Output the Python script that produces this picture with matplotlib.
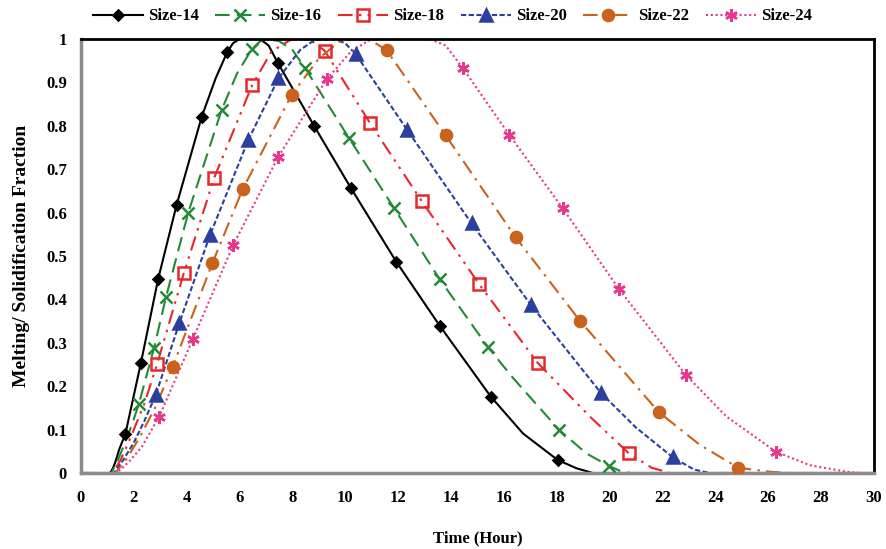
import matplotlib
matplotlib.use('Agg')
import matplotlib.pyplot as plt

plt.rcParams['font.family'] = ['Liberation Serif', 'DejaVu Serif']
plt.rcParams['font.weight'] = 'bold'

names = ['Size-14', 'Size-16', 'Size-18', 'Size-20', 'Size-22', 'Size-24']

# marker points (time in hours, fraction)
mk_t = {
    'Size-14': [1.68, 2.27, 2.92, 3.62, 4.57, 5.53, 7.46, 8.82, 10.22, 11.94, 13.58, 15.51, 18.04],
    'Size-16': [2.19, 2.76, 3.22, 4.06, 5.32, 6.46, 8.48, 10.15, 11.85, 13.58, 15.39, 18.1, 19.99],
    'Size-18': [2.88, 3.89, 5.04, 6.48, 9.22, 10.93, 12.89, 15.07, 17.28, 20.74],
    'Size-20': [2.83, 3.72, 4.88, 6.33, 7.47, 10.40, 12.35, 14.78, 17.03, 19.67, 22.40],
    'Size-22': [3.47, 4.97, 6.12, 7.97, 11.57, 13.80, 16.45, 18.88, 21.87, 24.88],
    'Size-24': [2.96, 4.23, 5.76, 7.47, 9.30, 14.46, 16.21, 18.23, 20.37, 22.89, 26.30],
}
mk_v = {
    'Size-14': [0.09, 0.254, 0.447, 0.618, 0.821, 0.969, 0.944, 0.800, 0.656, 0.486, 0.339, 0.176, 0.030],
    'Size-16': [0.159, 0.287, 0.406, 0.600, 0.836, 0.976, 0.933, 0.771, 0.610, 0.446, 0.291, 0.099, 0.016],
    'Size-18': [0.251, 0.460, 0.680, 0.894, 0.973, 0.807, 0.627, 0.435, 0.254, 0.045],
    'Size-20': [0.180, 0.345, 0.548, 0.767, 0.909, 0.965, 0.790, 0.575, 0.387, 0.185, 0.036],
    'Size-22': [0.245, 0.483, 0.654, 0.871, 0.974, 0.778, 0.543, 0.351, 0.140, 0.012],
    'Size-24': [0.130, 0.308, 0.525, 0.729, 0.907, 0.932, 0.779, 0.610, 0.423, 0.226, 0.049],
}

# extra points along the lines (onset, peak plateau, tail)
ln_t = {
    'Size-14': [0, 1.1, 1.2, 1.3, 1.45, 5.1, 5.75, 6.0, 6.77, 7.1,
                16.73, 18.75, 19.37, 30],
    'Size-16': [0, 1.15, 1.4, 1.7, 1.95, 5.9, 6.75, 7.0, 7.5, 8.0,
                16.35, 19.13, 20.4, 20.8, 30],
    'Size-18': [0, 1.2, 1.5, 1.9, 2.4, 7.21, 7.9, 8.2, 8.7,
                19.26, 21.6, 22.3, 30],
    'Size-20': [0, 1.25, 1.6, 2.0, 2.4, 8.3, 8.85, 9.6, 10.0,
                21.0, 23.2, 23.8, 30],
    'Size-22': [0, 1.3, 1.7, 2.2, 2.8, 9.0, 9.8, 10.4, 11.0,
                23.42, 26.07, 26.8, 30],
    'Size-24': [0, 1.35, 1.8, 2.3, 10.2, 10.9, 11.2, 13.2, 13.8,
                24.43, 27.58, 28.97, 29.5, 30],
}
ln_v = {
    'Size-14': [0, 0, 0.01, 0.025, 0.055, 0.91, 0.99, 1, 1, 0.985,
                0.091, 0.011, 0, 0],
    'Size-16': [0, 0, 0.03, 0.075, 0.115, 0.92, 0.993, 1, 0.995, 0.975,
                0.219, 0.045, 0.005, 0, 0],
    'Size-18': [0, 0, 0.03, 0.085, 0.16, 0.971, 0.997, 1, 0.997,
                0.130, 0.012, 0, 0],
    'Size-20': [0, 0, 0.03, 0.07, 0.12, 0.975, 0.998, 1, 0.99,
                0.105, 0.008, 0, 0],
    'Size-22': [0, 0, 0.03, 0.08, 0.15, 0.955, 0.995, 1, 0.996,
                0.065, 0.003, 0, 0],
    'Size-24': [0, 0, 0.025, 0.06, 0.97, 0.997, 1, 1, 0.985,
                0.130, 0.018, 0.003, 0, 0],
}

colors = ['black', '#238a35', '#e8262b', '#2b3f9e', '#c8621c', '#e8388c']
styles = ['-', (0, (7, 3.5)), (0, (7, 3, 1.2, 3, 1.2, 3)), (0, (2.5, 1.2)),
          (0, (7, 3, 1.2, 3)), (0, (1, 1.3))]
markers = ['D', 'x', 's', '^', 'o', (6, 2, 0)]
msizes = [5.5, 8, 8, 8, 8, 9]

fig = plt.figure(figsize=(8.87, 5.49), dpi=100)
ax = fig.add_axes([0.0913, 0.1384, 0.8937, 0.7906])

for i, n in enumerate(names):
    pts = sorted(zip(mk_t[n] + ln_t[n], mk_v[n] + ln_v[n]))
    ax.plot([p[0] for p in pts], [p[1] for p in pts], color=colors[i],
            linestyle=styles[i], lw=1.5, zorder=2)
    face = 'none' if markers[i] == 's' else colors[i]
    ax.plot(mk_t[n], mk_v[n], linestyle='none', marker=markers[i], ms=msizes[i],
            mfc=face, mec=colors[i], mew=1.8, zorder=3)
    # legend handle
    ax.plot([], [], color=colors[i], linestyle=styles[i], lw=1.5, marker=markers[i],
            ms=msizes[i], mfc=face, mec=colors[i], mew=1.8, label=n)

ax.set_xlim(0, 30)
ax.set_ylim(0, 1)
ax.set_xticks(range(0, 31, 2))
ax.set_yticks([i / 10 for i in range(11)])
ax.set_yticklabels(['0'] + ['%.1f' % (i / 10) for i in range(1, 10)] + ['1'])
ax.tick_params(length=0, labelsize=12)
ax.tick_params(axis='x', pad=12)
ax.tick_params(axis='y', pad=10)
for lab in ax.get_xticklabels() + ax.get_yticklabels():
    lab.set_fontweight('bold')

for s in ['top', 'right']:
    ax.spines[s].set_color('black')
    ax.spines[s].set_linewidth(2)
for s in ['left', 'bottom']:
    ax.spines[s].set_color('#8c8c8c')
    ax.spines[s].set_linewidth(2.5)

ax.set_xlabel('Time (Hour)', fontsize=12, fontweight='bold', labelpad=18)
ax.set_ylabel('Melting/ Solidification Fraction', fontsize=14, fontweight='bold', labelpad=12)

fig.legend(loc='upper center', bbox_to_anchor=(0.51, 1.012), ncol=6, frameon=False,
           numpoints=1, handlelength=3, columnspacing=1.0, handletextpad=0.3,
           prop={'size': 12, 'weight': 'bold'})

fig.savefig('out.png', dpi=100)
